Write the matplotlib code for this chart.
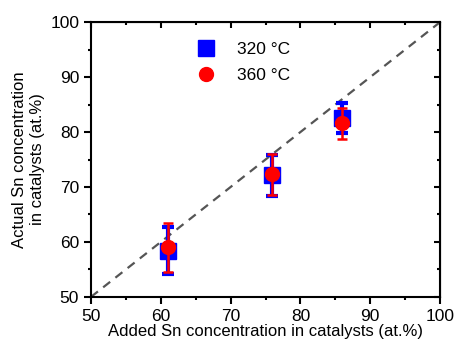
import matplotlib
matplotlib.use("Agg")
import matplotlib.pyplot as plt
from matplotlib.ticker import MultipleLocator

plt.rcParams['font.family'] = ['Liberation Sans', 'DejaVu Sans']

added_320 = [61.0, 75.9, 86.0]
actual_320 = [58.4, 72.1, 82.6]
err_320 = [4.3, 3.8, 2.7]

added_360 = [61.0, 75.9, 86.0]
actual_360 = [59.0, 72.3, 81.6]
err_360 = [4.5, 3.7, 2.8]

labels = ["320 °C", "360 °C"]
xlabel = "Added Sn concentration in catalysts (at.%)"
ylabel = "Actual Sn concentration\nin catalysts (at.%)"

fig = plt.figure(figsize=(4.57, 3.51), dpi=100)
ax = fig.add_axes([0.199, 0.154, 0.764, 0.783])

ax.plot([50, 100], [50, 100], linestyle=(0, (4, 3)), color='#555555', lw=1.6, zorder=1)

ax.errorbar(added_320, actual_320, yerr=err_320, fmt='s', color='#0000ff', ms=11.5,
            ecolor='#0000ff', elinewidth=3, capsize=4, capthick=3, label=labels[0], zorder=2)
ax.errorbar(added_360, actual_360, yerr=err_360, fmt='o', color='#ff0000', ms=10,
            ecolor='#ff0000', elinewidth=1.8, capsize=3.5, capthick=1.8, label=labels[1], zorder=3)

ax.set_xlim(50, 100)
ax.set_ylim(50, 100)
ax.xaxis.set_major_locator(MultipleLocator(10))
ax.xaxis.set_minor_locator(MultipleLocator(5))
ax.yaxis.set_major_locator(MultipleLocator(10))
ax.yaxis.set_minor_locator(MultipleLocator(5))
for s in ax.spines.values():
    s.set_linewidth(1.5)
ax.tick_params(which='major', direction='out', length=5, width=1.5, labelsize=12.5, top=False, right=False)
ax.tick_params(which='minor', direction='out', length=2.5, width=1.5, top=False, right=False)
ax2 = ax.secondary_xaxis('top')
ax2.xaxis.set_major_locator(MultipleLocator(10))
ax2.xaxis.set_minor_locator(MultipleLocator(5))
ax2.tick_params(which='major', direction='in', length=4, width=1.5, labeltop=False)
ax2.tick_params(which='minor', direction='in', length=2.5, width=1.5)
ax3 = ax.secondary_yaxis('right')
ax3.yaxis.set_major_locator(MultipleLocator(10))
ax3.yaxis.set_minor_locator(MultipleLocator(5))
ax3.tick_params(which='major', direction='in', length=4, width=1.5, labelright=False)
ax3.tick_params(which='minor', direction='in', length=2.5, width=1.5)

ax.set_xlabel(xlabel, fontsize=12, labelpad=0)
ax.set_ylabel(ylabel, fontsize=12, labelpad=4)

handles, labs = ax.get_legend_handles_labels()
handles = [h[0] for h in handles]
ax.legend(handles, labs, loc='upper left', bbox_to_anchor=(0.26, 0.985), frameon=False,
          fontsize=12.5, handlelength=1.0, handletextpad=1.3, labelspacing=0.6)

fig.savefig("out.png", dpi=100)
